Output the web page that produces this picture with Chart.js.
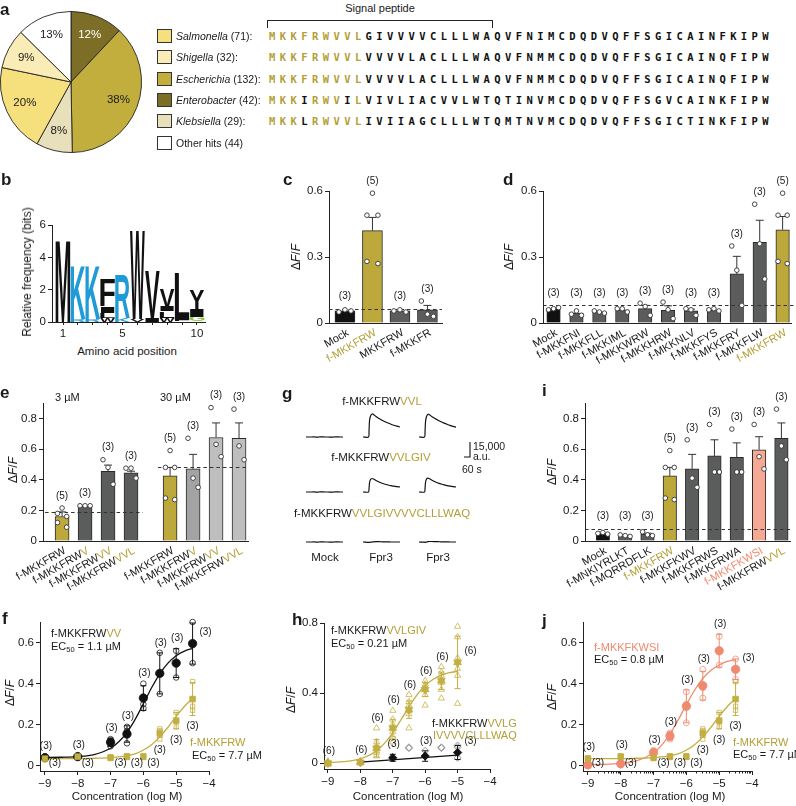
<!DOCTYPE html>
<html><head><meta charset="utf-8">
<script src="https://cdn.jsdelivr.net/npm/chart.js@4.4.1/dist/chart.umd.min.js"></script>
<style>
html,body{margin:0;padding:0;background:#fff}
body{position:relative;width:796px;height:806px;overflow:hidden;font-family:"Liberation Sans",Arial,Helvetica,sans-serif;color:#1a1a1a}
canvas{position:absolute}
.t{position:absolute;white-space:nowrap;line-height:1;font-size:11px}
.pl{font-weight:bold;font-size:17px}
.ol{color:#b39f36}
.sa{color:#ef8a6f}
.seq{position:absolute;font-family:"DejaVu Sans Mono",monospace;font-weight:bold;font-size:10.5px;letter-spacing:4.4px;white-space:nowrap;line-height:1;color:#111;transform:translateY(-50%)}
.sw{position:absolute;width:13px;height:12px;border:1px solid #333}
sub{font-size:7.5px;vertical-align:-2px;line-height:0}
</style></head><body>
<script>
// ===================== DATA =====================
// a: pie + legend
const genera = ['Salmonella','Shigella','Escherichia','Enterobacter','Klebsiella','Other hits'];
const generaCounts = [71,32,132,42,29,44];
const generaPct = [20,9,38,12,8,13];
const pieOrder = [3,2,4,0,1,5];            // clockwise from 12 o'clock
const seqRows = [
  'MKKFRWVVLGIVVVVCLLLWAQVFNIMCDQDVQFFSGICAINFKIPW',
  'MKKFRWVVLVVVVLACLLLWAQVFNMMCDQDVQFFSGICAINQFIPW',
  'MKKFRWVVLVVVVLACLLLWAQVFNMMCDQDVQFFSGICAINQFIPW',
  'MKKIRWVILVIVLIACVVLWTQTINVMCDQDVQFFSGVCAINKFIPW',
  'MKKLRWVVLIVIIAGCLLLWTQMTNVMCDQDVQFFSGICTINKFIPW'];
const seqConserved = ['111111111','111111111','111111111','111011101','111011111'];

// b: sequence logo (stacked, bottom -> top)
const logoPositions = [1,2,3,4,5,6,7,8,9,10];
const logoL1 = ['M','R','R','W','K','V','I','W','F','G'];
const logoB1 = [5.1,0.2,0.2,0.25,0.25,0.2,0.25,0.25,0.1,0.32];
const logoL2 = ['','K','K','L','R','W','V','L','L','I'];
const logoB2 = [0,3.25,3.25,0.3,2.65,5.5,2.95,0.4,2.9,0.5];
const logoL3 = ['','','','I','','','','I','','Y'];
const logoB3 = [0,0,0,0.4,0,0,0,0.3,0,1.2];
const logoL4 = ['','','','F','','','','V','',''];
const logoB4 = [0,0,0,1.65,0,0,0,1.1,0,0];
const logoYTicks = [0,2,4,6];

// c
const cCats = ['Mock','f-MKKFRW','MKKFRW','f-MKKFR'];
const cMeans = [0.055,0.42,0.055,0.06];
const cSem = [0.003,0.06,0.003,0.02];
const cPts = [[0.05,0.06,0.055],[0.59,0.49,0.49,0.28,0.27],[0.055,0.06,0.05],[0.1,0.04,0.03]];
const cN = [3,5,3,3];
const cBaseline = 0.065;
const cYTicks = [0,0.3,0.6];

// d
const dCats = ['Mock','f-MKKFNI','f-MKKFLL','f-MKKIML','f-MKKWRW','f-MKKHRW','f-MKKNLV','f-MKKFYS','f-MKKFRY','f-MKKFLW','f-MKKFRW'];
const dMeans = [0.065,0.045,0.05,0.06,0.065,0.058,0.055,0.06,0.223,0.367,0.424];
const dSem = [0.003,0.005,0.003,0.004,0.015,0.02,0.008,0.003,0.08,0.1,0.06];
const dPts = [[0.06,0.065,0.07],[0.04,0.055,0.035],[0.055,0.05,0.045],[0.065,0.065,0.05],[0.09,0.075,0.035],[0.095,0.06,0.02],[0.065,0.06,0.035],[0.06,0.065,0.055],[0.35,0.24,0.08],[0.54,0.36,0.2],[0.59,0.49,0.49,0.28,0.27]];
const dN = [3,3,3,3,3,3,3,3,3,3,5];
const dBaseline = 0.082;

// e
const eCats = ['f-MKKFRW','f-MKKFRW','f-MKKFRW','f-MKKFRW','f-MKKFRW','f-MKKFRW','f-MKKFRW','f-MKKFRW'];
const eSuffix = ['','V','VV','VVL','','V','VV','VVL'];
const eGroups = ['3 µM','30 µM'];
const eMeans = [0.16,0.23,0.455,0.445,0.425,0.47,0.675,0.67];
const eSem = [0.03,0.004,0.04,0.01,0.055,0.095,0.095,0.1];
const ePts = [[0.215,0.18,0.16,0.12,0.09],[0.23,0.23,0.23],[0.53,0.48,0.37],[0.475,0.475,0.41],[0.59,0.48,0.48,0.28,0.27],[0.67,0.41,0.35],[0.87,0.63,0.55],[0.86,0.62,0.53]];
const eN = [5,3,3,3,5,3,3,3];
const eBaselines = [0.19,0.48];
const eYTicks = [0,0.2,0.4,0.6,0.8];

// g: calcium traces (a.u.)
const traceTime = [0,55,60,65,75,90,105,130,160,190,220,250,280,310,340,370];
const traceMock = [0,0,0,0,100,0,-100,0,100,0,0,-100,0,100,0,0];
const traceVVL1 = [0,0,5000,16000,21000,23000,22500,20500,18500,16800,15300,14000,12800,11700,10800,10000];
const traceVVL2 = [0,0,4500,15000,20500,22800,22200,20300,18400,16700,15200,13900,12700,11600,10700,9900];
const traceGIV1 = [0,0,3000,9000,12500,13500,13000,11500,10000,8800,7800,7000,6300,5800,5300,5000];
const traceGIV2 = [0,0,3000,9500,13000,13800,13300,11800,10300,9000,8000,7100,6400,5800,5300,5000];
const traceLong1 = [0,-300,-500,-400,-200,0,200,300,300,200,100,100,0,0,0,0];
const traceLong2 = [0,-200,-400,-300,0,300,500,500,400,300,200,100,100,0,0,0];
const scaleBarX = [0,60,60];
const scaleBarY = [0,0,15000];

// i
const iCats = ['Mock','f-MNKIYRLKT','f-MQRRDFLK','f-MKKFRW','f-MKKFKWV','f-MKKFRWS','f-MKKFRWA','f-MKKFKWSI','f-MKKFRW'];
const iSuffix = ['','','','','','','','','VVL'];
const iMeans = [0.05,0.035,0.045,0.425,0.47,0.555,0.545,0.595,0.67];
const iSem = [0.003,0.003,0.006,0.055,0.095,0.105,0.095,0.085,0.1];
const iPts = [[0.05,0.055,0.045],[0.04,0.035,0.03],[0.06,0.04,0.035],[0.59,0.48,0.48,0.28,0.27],[0.66,0.41,0.35],[0.76,0.45,0.45],[0.73,0.45,0.45],[0.76,0.55,0.47],[0.86,0.62,0.53]];
const iN = [3,3,3,5,3,3,3,3,3];
const iBaseline = 0.08;

// f / h / j: concentration-response
const doseX = [-9,-8,-7,-6.5,-6,-5.5,-5,-4.5];
const doseXTicks = [-9,-8,-7,-6,-5,-4];
const curveX = [-9,-8.5,-8,-7.5,-7,-6.75,-6.5,-6.25,-6,-5.75,-5.5,-5.25,-5,-4.75,-4.5];
const fYTicks = [0,0.2,0.4,0.6];

const vvMean = [0.04,0.045,0.115,0.155,0.33,0.45,0.5,0.595];
const vvSem = [0.006,0.006,0.02,0.04,0.06,0.1,0.07,0.1];
const vvReps = [[0.035,0.04,0.045],[0.04,0.045,0.05],[0.095,0.12,0.13],[0.11,0.17,0.19],[0.28,0.3,0.4],[0.35,0.45,0.55],[0.43,0.5,0.56],[0.5,0.59,0.7]];
const vvCurve = [0.041,0.042,0.045,0.055,0.086,0.117,0.163,0.226,0.302,0.38,0.448,0.5,0.536,0.558,0.572];

const frwMean = [0.035,0.045,0.04,0.045,0.045,0.16,0.22,0.325];
const frwSem = [0.004,0.004,0.004,0.005,0.005,0.02,0.04,0.08];
const frwReps = [[0.03,0.035,0.04],[0.04,0.045,0.05],[0.035,0.04,0.045],[0.04,0.045,0.05],[0.04,0.045,0.05],[0.13,0.15,0.18],[0.19,0.22,0.26],[0.27,0.29,0.41]];
const frwCurve = [0.035,0.035,0.035,0.037,0.04,0.044,0.049,0.058,0.077,0.103,0.141,0.188,0.241,0.289,0.328];

const hX = [-9,-8,-7.5,-7,-6.5,-6,-5.5,-5];
const hCurveX = [-9,-8.5,-8,-7.75,-7.5,-7.25,-7,-6.75,-6.5,-6.25,-6,-5.75,-5.5,-5.25,-5];
const hYTicks = [0,0.4,0.8];
const givMean = [0.0,0.005,0.085,0.2,0.305,0.42,0.47,0.575];
const givSem = [0.01,0.01,0.05,0.05,0.05,0.04,0.05,0.15];
const givReps = [[-0.01,0,0,0.005,0.01,0.005],[0,0,0.005,0.01,0.01,0.005],[0.04,0.06,0.07,0.1,0.12,0.2],[0.12,0.15,0.18,0.22,0.25,0.3],[0.2,0.28,0.3,0.33,0.35,0.39],[0.33,0.39,0.42,0.44,0.45,0.47],[0.37,0.42,0.46,0.5,0.52,0.55],[0.34,0.5,0.54,0.6,0.72,0.78]];
const givCurve = [0.003,0.008,0.024,0.042,0.07,0.114,0.173,0.246,0.322,0.39,0.443,0.479,0.502,0.516,0.524];
const longX = [-7,-6,-5];
const longMean = [0.03,0.04,0.06];
const longSem = [0.02,0.03,0.04];
const longRepX = [-8,-6.5,-6.5,-6,-5.5,-5.5,-5,-5,-5];
const longRepY = [0.0,0.09,0.085,0.07,0.09,0.085,0.1,0.09,0.03];
const longLineX = [-8,-5];
const longLineY = [0.005,0.045];

const wsiMean = [0.005,0.01,0.065,0.145,0.29,0.39,0.56,0.47];
const wsiSem = [0.003,0.004,0.01,0.02,0.08,0.07,0.08,0.05];
const wsiReps = [[0,0.005,0.01],[0.005,0.01,0.015],[0.055,0.065,0.075],[0.13,0.15,0.16],[0.21,0.3,0.36],[0.33,0.38,0.47],[0.49,0.56,0.63],[0.42,0.47,0.52]];
const wsiCurve = [0.006,0.007,0.012,0.025,0.064,0.101,0.155,0.223,0.298,0.368,0.425,0.465,0.491,0.508,0.517];

// ===================== STYLE =====================
const FONT = '"Liberation Sans", Arial, Helvetica, sans-serif';
const K = '#1a1a1a', OL = '#bca83b', OLT = '#b39f36', OLM = '#c2ae42', OLR = '#cdbb5c';
const DG = '#5b5c5c', MG = '#a3a3a3', LG = '#bebebe', SAB = '#f5a894', SAM = '#ef8a6f', SAR = '#f2a08a';
const BLUE = '#1f9bd7', GREEN = '#8cc63f';
Chart.defaults.font.family = FONT;
Chart.defaults.color = K;

function txt(x, y, html, o) {
  o = o || {};
  const d = document.createElement('div');
  d.className = 't ' + (o.cls || '');
  d.innerHTML = html;
  d.style.left = x + 'px'; d.style.top = y + 'px';
  if (o.size) d.style.fontSize = o.size + 'px';
  const tx = o.align === 'c' ? '-50%' : o.align === 'r' ? '-100%' : '0';
  d.style.transform = 'translate(' + tx + ',-50%)';
  if (o.rot) d.style.transform = 'translate(-50%,-50%) rotate(-90deg)';
  document.body.appendChild(d);
  return d;
}
const DFF = '&Delta;<i>F</i>/<i>F</i>';

function mk(box, cfg) {
  const W = box.w + box.pl + box.pr, H = box.h + box.pt + box.pb;
  const c = document.createElement('canvas');
  c.width = W; c.height = H;
  Object.assign(c.style, {left: (box.l - box.pl) + 'px', top: (box.t - box.pt) + 'px', width: W + 'px', height: H + 'px'});
  document.body.appendChild(c);
  const o = cfg.options = cfg.options || {};
  Object.assign(o, {responsive: false, maintainAspectRatio: false, devicePixelRatio: 1, animation: false, events: []});
  o.plugins = Object.assign({legend: {display: false}, tooltip: {enabled: false}}, o.plugins || {});
  if (o.scales && o.scales.x && o.scales.x.display !== false) {
    o.layout = {padding: {left: 0, top: box.pt, right: box.pr, bottom: 0}};
    o.scales.x.afterFit = s => { s.height = box.pb; };
    o.scales.y.afterFit = s => { s.width = box.pl; };
  } else {
    o.layout = {padding: {left: box.pl, top: box.pt, right: box.pr, bottom: box.pb}};
  }
  return new Chart(c, cfg);
}
function fmtNum(v) {
  if (v === 0) return '0';
  if (Number.isInteger(v)) return String(v).replace('-', '\u2212');
  return v.toFixed(1);
}
function linAxis(min, max, ticks, opt) {
  opt = opt || {};
  return {
    type: 'linear', min: min, max: max, offset: false, stacked: !!opt.stacked,
    afterBuildTicks: s => { s.ticks = ticks.map(v => ({value: v})); },
    grid: {display: !opt.noTicks, drawOnChartArea: false, drawTicks: true, tickLength: opt.tl || 4, color: '#222', lineWidth: 1, offset: false},
    border: {display: true, color: '#222', width: 1},
    ticks: {display: !!opt.labels, autoSkip: false, maxRotation: 0, minRotation: 0, padding: 2, color: K,
      font: {size: 11.5, family: FONT}, callback: opt.fmt || (v => fmtNum(v))}
  };
}

// ===================== PANEL a =====================
const pieColors = ['#f6df7d','#f9ecb6','#c2ae3c','#7c6d27','#e8dfbb','#ffffff'];
mk({l: 0, t: 11, w: 142, h: 142, pl: 0, pt: 0, pr: 0, pb: 0}, {
  type: 'pie',
  data: {labels: pieOrder.map(i => genera[i]), datasets: [{data: pieOrder.map(i => generaCounts[i]),
    backgroundColor: pieOrder.map(i => pieColors[i]), borderColor: '#222', borderWidth: 0.9}]},
  options: {},
  plugins: [{id: 'pielab', afterDatasetsDraw(chart) {
    const ctx = chart.ctx, meta = chart.getDatasetMeta(0);
    ctx.save(); ctx.font = '11.5px ' + FONT; ctx.textAlign = 'center'; ctx.textBaseline = 'middle';
    meta.data.forEach((arc, i) => {
      const a = (arc.startAngle + arc.endAngle) / 2, r = arc.outerRadius * 0.72;
      ctx.fillStyle = pieOrder[i] === 3 ? '#fff' : K;
      ctx.fillText(generaPct[pieOrder[i]] + '%', arc.x + Math.cos(a) * r, arc.y + Math.sin(a) * r);
    });
    ctx.restore();
  }}]
});
txt(0, 9, 'a', {cls: 'pl'});
genera.forEach((g, k) => {
  const cy = 36 + 21.3 * k;
  const sw = document.createElement('div'); sw.className = 'sw';
  Object.assign(sw.style, {left: '157px', top: (cy - 7) + 'px', background: pieColors[k]});
  document.body.appendChild(sw);
  const name = k < 5 ? '<i>' + g + '</i>' : g;
  txt(176, cy, name + ' (' + generaCounts[k] + ')' + (k < 5 ? ':' : ''), {size: 10.5});
});
seqRows.forEach((s, k) => {
  const d = document.createElement('div'); d.className = 'seq';
  d.style.left = '269px'; d.style.top = (36 + 21.3 * k) + 'px';
  d.innerHTML = s.split('').map((ch, i) => (i < 9 && seqConserved[k][i] === '1') ? '<span class="ol">' + ch + '</span>' : ch).join('');
  document.body.appendChild(d);
});
txt(380, 8, 'Signal peptide', {align: 'c', size: 11});
const br = document.createElement('div');
Object.assign(br.style, {position: 'absolute', left: '267px', top: '20px', width: '224px', height: '7px', borderTop: '1px solid #222', borderLeft: '1px solid #222', borderRight: '1px solid #222'});
document.body.appendChild(br);

// ===================== PANEL b (logo) =====================
const logoLevels = [[logoL1, logoB1], [logoL2, logoB2], [logoL3, logoB3], [logoL4, logoB4]];
const logoColor = ch => (ch === 'K' || ch === 'R') ? BLUE : ch === 'G' ? GREEN : '#111';
mk({l: 52, t: 225, w: 153, h: 97, pl: 40, pt: 10, pr: 8, pb: 22}, {
  type: 'bar',
  data: {datasets: logoLevels.map(([L, B]) => ({
    data: B.map((b, i) => ({x: i, y: b})), backgroundColor: 'rgba(0,0,0,0)', borderWidth: 0, barThickness: 14.8, letters: L}))},
  options: {scales: {
    x: linAxis(-0.74, 9.54, logoPositions.map((p, i) => i), {labels: true, tl: 3, stacked: true, fmt: v => ([1,5,10].includes(logoPositions[v]) ? String(logoPositions[v]) : '')}),
    y: linAxis(0, 6, logoYTicks, {labels: true, stacked: true, fmt: v => String(v)})}},
  plugins: [{id: 'logo', afterDatasetsDraw(chart) {
    const ctx = chart.ctx;
    chart.data.datasets.forEach((ds, di) => {
      const meta = chart.getDatasetMeta(di);
      meta.data.forEach((el, i) => {
        const ch = ds.letters[i]; if (!ch) return;
        const top = Math.min(el.y, el.base), bot = Math.max(el.y, el.base), h = bot - top; if (h < 0.5) return;
        const w = el.width, left = el.x - w / 2;
        ctx.save(); ctx.font = 'bold 100px ' + FONT; ctx.textAlign = 'left'; ctx.textBaseline = 'alphabetic';
        const m = ctx.measureText(ch);
        const gw = m.actualBoundingBoxLeft + m.actualBoundingBoxRight, gh = m.actualBoundingBoxAscent + m.actualBoundingBoxDescent;
        ctx.translate(left, top); ctx.scale(w / gw, h / gh);
        ctx.fillStyle = logoColor(ch);
        ctx.fillText(ch, m.actualBoundingBoxLeft, m.actualBoundingBoxAscent);
        ctx.restore();
      });
    });
  }}]
});
txt(1, 179, 'b', {cls: 'pl'});
txt(27, 272, 'Relative frequency (bits)', {rot: true, size: 12});
txt(127, 352, 'Amino acid position', {align: 'c', size: 11.5});

// ===================== BAR PANELS =====================
function barPanel(box, P) {
  const pos = P.pos;
  const jit = {3: [-0.22, 0, 0.22], 5: [0, -0.2, 0.2, -0.2, 0.2]};
  const pts = [];
  P.pts.forEach((arr, i) => arr.forEach((v, k) => pts.push({x: pos[i] + jit[arr.length][k], y: v})));
  const plug = {id: 'bp', beforeDatasetDraw(chart, args) {
      if (args.index !== 0) return;
      const ctx = chart.ctx, xs = chart.scales.x, ys = chart.scales.y;
      ctx.save(); ctx.strokeStyle = '#333'; ctx.lineWidth = 1; ctx.setLineDash([3.5, 3]);
      P.base.forEach(b => { const y = Math.round(ys.getPixelForValue(b.y)) + 0.5; ctx.beginPath(); ctx.moveTo(xs.getPixelForValue(b.from), y); ctx.lineTo(xs.getPixelForValue(b.to), y); ctx.stroke(); });
      ctx.setLineDash([]); ctx.strokeStyle = '#333';
      P.means.forEach((m, i) => {
        if (P.sems[i] < 0.006) return;
        const x = xs.getPixelForValue(pos[i]), y0 = ys.getPixelForValue(m), y1 = ys.getPixelForValue(m + P.sems[i]);
        ctx.beginPath(); ctx.moveTo(x, y0); ctx.lineTo(x, y1); ctx.moveTo(x - P.cap, y1); ctx.lineTo(x + P.cap, y1); ctx.stroke();
      });
      ctx.restore();
    },
    afterDraw(chart) {
      const ctx = chart.ctx, xs = chart.scales.x, ys = chart.scales.y, y0 = ys.getPixelForValue(0);
      ctx.save();
      ctx.font = '10px ' + FONT; ctx.fillStyle = K; ctx.textAlign = 'center'; ctx.textBaseline = 'middle';
      P.means.forEach((m, i) => {
        let top = Math.max(m + P.sems[i], ...P.pts[i]);
        P.base.forEach(b => { if (pos[i] >= b.from && pos[i] <= b.to) top = Math.max(top, b.y); });
        ctx.fillText('(' + P.n[i] + ')', xs.getPixelForValue(pos[i]), ys.getPixelForValue(top) - 12);
      });
      ctx.font = '11px ' + FONT; ctx.textAlign = 'left';
      P.cats.forEach((c, i) => {
        const suf = (P.suffix && P.suffix[i]) || '';
        const w1 = ctx.measureText(c).width, w2 = ctx.measureText(suf).width;
        ctx.save(); ctx.translate(xs.getPixelForValue(pos[i]) + 3, y0 + 9); ctx.rotate(-P.rot * Math.PI / 180);
        ctx.fillStyle = P.lc[i]; ctx.fillText(c, -(w1 + w2), 0);
        if (suf) { ctx.fillStyle = OLT; ctx.fillText(suf, -w2, 0); }
        ctx.restore();
      });
      ctx.restore();
    }};
  return mk(box, {
    type: 'bar',
    data: {datasets: [
      {type: 'scatter', data: pts, pointRadius: 2.3, pointBackgroundColor: '#fff', pointBorderColor: '#333', pointBorderWidth: 0.9, clip: false},
      {type: 'bar', data: P.means.map((m, i) => ({x: pos[i], y: m})), backgroundColor: P.colors, borderColor: '#2a2a2a', borderWidth: 1, barThickness: P.bw}
    ]},
    options: {scales: {x: linAxis(P.xmin, P.xmax, [P.xmin], {noTicks: true}), y: linAxis(0, P.ymax, P.yticks, {labels: true})}},
    plugins: [plug]
  });
}

// c
barPanel({l: 329, t: 191, w: 113, h: 132, pl: 45, pt: 25, pr: 8, pb: 75}, {
  cats: cCats, means: cMeans, sems: cSem, pts: cPts, n: cN, pos: cCats.map((_, i) => i),
  xmin: -0.58, xmax: 3.53, ymax: 0.6, yticks: cYTicks, bw: 20, cap: 4, rot: 30,
  colors: ['#111', OL, DG, DG], lc: [K, OLT, K, K], base: [{y: cBaseline, from: -0.58, to: 3.53}]});
txt(283, 179, 'c', {cls: 'pl'});
txt(296, 257, DFF, {rot: true, size: 12});

// d
barPanel({l: 543, t: 191, w: 249, h: 132, pl: 45, pt: 25, pr: 4, pb: 75}, {
  cats: dCats, means: dMeans, sems: dSem, pts: dPts, n: dN, pos: dCats.map((_, i) => i),
  xmin: -0.46, xmax: 10.37, ymax: 0.6, yticks: cYTicks, bw: 13.5, cap: 4, rot: 30,
  colors: ['#111', DG, DG, DG, DG, DG, DG, DG, DG, DG, OL], lc: [K, K, K, K, K, K, K, K, K, K, OLT],
  base: [{y: dBaseline, from: -0.46, to: 10.55}]});
txt(503, 179, 'd', {cls: 'pl'});
txt(509, 257, DFF, {rot: true, size: 12});

// e
const ePos = eMeans.map((_, i) => i < 4 ? i : i + 0.7);
barPanel({l: 43, t: 403, w: 205, h: 138, pl: 40, pt: 25, pr: 8, pb: 75}, {
  cats: eCats, suffix: eSuffix, means: eMeans, sems: eSem, pts: ePts, n: eN, pos: ePos,
  xmin: -0.83, xmax: 8.09, ymax: 0.9, yticks: eYTicks, bw: 14, cap: 4, rot: 30,
  colors: [OL, DG, DG, DG, OL, MG, LG, LG], lc: [K, K, K, K, K, K, K, K],
  base: [{y: eBaselines[0], from: -0.74, to: 3.52}, {y: eBaselines[1], from: 4.17, to: 8.09}]});
txt(0, 392, 'e', {cls: 'pl'});
txt(13, 470, DFF, {rot: true, size: 12});
txt(55, 397, eGroups[0], {size: 11});
txt(160, 397, eGroups[1], {size: 11});

// i
barPanel({l: 585, t: 403, w: 206, h: 138, pl: 40, pt: 25, pr: 4, pb: 75}, {
  cats: iCats, suffix: iSuffix, means: iMeans, sems: iSem, pts: iPts, n: iN, pos: iCats.map((_, i) => i),
  xmin: -0.8, xmax: 8.39, ymax: 0.9, yticks: eYTicks, bw: 13.5, cap: 4, rot: 30,
  colors: ['#111', DG, DG, OL, DG, DG, DG, SAB, DG], lc: [K, K, K, OLT, K, K, K, SAM, K],
  base: [{y: iBaseline, from: -0.8, to: 8.39}]});
txt(542, 390, 'i', {cls: 'pl'});
txt(552, 472, DFF, {rot: true, size: 12});

// ===================== PANEL g (traces) =====================
const traceRowsData = [[traceMock, traceVVL1, traceVVL2], [traceMock, traceGIV1, traceGIV2], [traceMock, traceLong1, traceLong2]];
const rowBase = [437, 492, 542], colLeft = [306, 363, 419];
function plainScales(xmin, xmax, ymin, ymax) {
  return {x: {type: 'linear', display: false, min: xmin, max: xmax}, y: {type: 'linear', display: false, min: ymin, max: ymax}};
}
traceRowsData.forEach((row, r) => row.forEach((tr, c) => {
  mk({l: colLeft[c], t: rowBase[r] - 25, w: 37, h: 27, pl: 2, pt: 2, pr: 2, pb: 2}, {
    type: 'scatter',
    data: {datasets: [{data: traceTime.map((t, i) => ({x: t, y: tr[i]})), showLine: true, pointRadius: 0, borderColor: '#111', borderWidth: 1.2, tension: 0.3, clip: false}]},
    options: {scales: plainScales(0, 370, -2000, 25000)}
  });
}));
mk({l: 464, t: 442, w: 6, h: 15, pl: 2, pt: 2, pr: 2, pb: 2}, {
  type: 'scatter',
  data: {datasets: [{data: scaleBarX.map((t, i) => ({x: t, y: scaleBarY[i]})), showLine: true, pointRadius: 0, borderColor: '#111', borderWidth: 1.1, clip: false}]},
  options: {scales: plainScales(0, 60, 0, 15000)}
});
txt(282, 393, 'g', {cls: 'pl'});
txt(382, 402, 'f-MKKFRW<span class="ol">VVL</span>', {align: 'c', size: 11.5});
txt(381, 458, 'f-MKKFRW<span class="ol">VVLGIV</span>', {align: 'c', size: 11.5});
txt(382, 514, 'f-MKKFRW<span class="ol">VVLGIVVVVCLLLWAQ</span>', {align: 'c', size: 11.5});
txt(325, 558, 'Mock', {align: 'c', size: 11.5});
txt(381, 558, 'Fpr3', {align: 'c', size: 11.5});
txt(438, 558, 'Fpr3', {align: 'c', size: 11.5});
txt(473, 446, '15,000', {size: 10.5});
txt(473, 456, 'a.u.', {size: 10.5});
txt(462, 469, '60 s', {size: 10.5});

// ===================== DOSE PANELS =====================
function dosePanel(box, P) {
  const ds = [];
  P.series.forEach(S => {
    S.marks.forEach((mk_, k) => ds.push({type: 'scatter', data: S.x.map((x, i) => ({x: x, y: S.mean[i]})),
      pointStyle: mk_.style, pointRotation: mk_.rot || 0, pointRadius: mk_.r, pointBackgroundColor: S.color, pointBorderColor: S.color,
      pointBorderWidth: 0.8, order: 1, clip: false, errSrc: k === 0 ? S : null}));
  });
  P.series.forEach(S => { if (S.cx) ds.push({type: 'scatter', showLine: true, data: S.cx.map((x, i) => ({x: x, y: S.cy[i]})),
    borderColor: S.lineColor || S.color, borderWidth: 1.3, pointRadius: 0, cubicInterpolationMode: 'monotone', order: 2, clip: false}); });
  P.series.forEach(S => {
    const d = [];
    if (S.reps) S.reps.forEach((arr, i) => arr.forEach(v => d.push({x: S.x[i], y: v})));
    if (S.repX) S.repX.forEach((x, i) => d.push({x: x, y: S.repY[i]}));
    if (d.length) ds.push({type: 'scatter', data: d, pointStyle: S.repStyle, pointRadius: S.repR, pointBackgroundColor: 'rgba(255,255,255,0)',
      pointBorderColor: S.repColor, pointBorderWidth: 0.9, order: 3, clip: false});
  });
  const plug = {id: 'dp',
    beforeDatasetDraw(chart, args) {
      const S = chart.data.datasets[args.index].errSrc; if (!S) return;
      const ctx = chart.ctx, xs = chart.scales.x, ys = chart.scales.y;
      ctx.save(); ctx.strokeStyle = S.color; ctx.lineWidth = 1;
      S.x.forEach((x, i) => {
        const px = xs.getPixelForValue(x), a = ys.getPixelForValue(S.mean[i] + S.sem[i]), b = ys.getPixelForValue(S.mean[i] - S.sem[i]);
        if (Math.abs(a - b) < 3) return;
        ctx.beginPath(); ctx.moveTo(px, a); ctx.lineTo(px, b);
        ctx.moveTo(px - 3, a); ctx.lineTo(px + 3, a); ctx.moveTo(px - 3, b); ctx.lineTo(px + 3, b); ctx.stroke();
      });
      ctx.restore();
    },
    afterDraw(chart) {
      const ctx = chart.ctx, xs = chart.scales.x, ys = chart.scales.y;
      ctx.save();
      if (P.minor) {
        ctx.strokeStyle = '#222'; ctx.lineWidth = 1; ctx.beginPath();
        const yb = chart.chartArea.bottom;
        P.minor.forEach(v => { const px = Math.round(xs.getPixelForValue(v)) + 0.5; ctx.moveTo(px, yb); ctx.lineTo(px, yb + 2.5); });
        ctx.stroke();
      }
      ctx.font = '10px ' + FONT; ctx.fillStyle = K; ctx.textAlign = 'center'; ctx.textBaseline = 'middle';
      P.series.forEach(S => { if (!S.lab) return; S.x.forEach((x, i) => {
        const m = S.lab[i]; if (!m) return;
        const px = xs.getPixelForValue(x);
        const reps = S.reps ? S.reps[i] : [];
        const hi = Math.max(S.mean[i] + S.sem[i], ...reps), lo = Math.min(S.mean[i] - S.sem[i], ...reps);
        let lx, ly;
        if (m === 'a') { lx = px + 1; ly = ys.getPixelForValue(hi) - 10; }
        else if (m === 'R') { lx = px + 13; ly = ys.getPixelForValue(S.mean[i]) - 11; }
        else if (m === 'r') { lx = px + 10; ly = ys.getPixelForValue(0) - 3; }
        else { lx = px; ly = ys.getPixelForValue(lo) + 11; }
        ctx.fillText('(' + S.n + ')', lx, ly);
      }); });
      ctx.restore();
    }};
  return mk(box, {
    type: 'scatter', data: {datasets: ds},
    options: {scales: {x: linAxis(P.xmin, P.xmax, doseXTicks, {labels: true}), y: linAxis(P.ymin, P.ymax, P.yticks, {labels: true})}},
    plugins: [plug]
  });
}

const frwSeries = {x: doseX, mean: frwMean, sem: frwSem, reps: frwReps, cx: curveX, cy: frwCurve, color: OLM, repColor: OLR,
  marks: [{style: 'rect', r: 4}], repStyle: 'rect', repR: 3, n: 3};

// f
dosePanel({l: 40, t: 622, w: 169, h: 149, pl: 40, pt: 12, pr: 10, pb: 22}, {
  xmin: -9.15, xmax: -4, ymin: -0.025, ymax: 0.7, yticks: fYTicks,
  series: [
    Object.assign({}, frwSeries, {lab: ['r','r','r','r','r','b','b','b']}),
    {x: doseX, mean: vvMean, sem: vvSem, reps: vvReps, cx: curveX, cy: vvCurve, color: '#111', repColor: '#333',
     marks: [{style: 'circle', r: 4.2}], repStyle: 'circle', repR: 2.8, n: 3, lab: ['a','a','a','a','a','a','a','R']}
  ]});
txt(2, 618, 'f', {cls: 'pl'});
txt(10, 693, DFF, {rot: true, size: 12});
txt(127, 797, 'Concentration (log M)', {align: 'c', size: 11.5});
txt(51, 633, 'f-MKKFRW<span class="ol">VV</span>', {size: 11});
txt(51, 646, 'EC<sub>50</sub> = 1.1 µM', {size: 11});
txt(190, 742, '<span class="ol">f-MKKFRW</span>', {size: 11});
txt(192, 755, 'EC<sub>50</sub> = 7.7 µM', {size: 11});

// h
dosePanel({l: 324, t: 623, w: 166, h: 146, pl: 40, pt: 12, pr: 10, pb: 22}, {
  xmin: -9.12, xmax: -4, ymin: -0.034, ymax: 0.8, yticks: hYTicks,
  series: [
    {x: longX, mean: longMean, sem: longSem, repX: longRepX, repY: longRepY, cx: longLineX, cy: longLineY, color: '#111', repColor: '#8a8a8a',
     marks: [{style: 'rectRot', r: 4.2}], repStyle: 'rectRot', repR: 3.5, n: 3, lab: ['a','a','R']},
    {x: hX, mean: givMean, sem: givSem, reps: givReps, cx: hCurveX, cy: givCurve, color: OLM, repColor: OLR,
     marks: [{style: 'triangle', r: 4.5}, {style: 'triangle', r: 4.5, rot: 180}], repStyle: 'triangle', repR: 3.6, n: 6,
     lab: ['a','a','a','a','a','a','a','R']}
  ]});
txt(292, 619, 'h', {cls: 'pl'});
txt(291, 700, DFF, {rot: true, size: 12});
txt(408, 797, 'Concentration (log M)', {align: 'c', size: 11.5});
txt(331, 630, 'f-MKKFRW<span class="ol">VVLGIV</span>', {size: 11});
txt(331, 643, 'EC<sub>50</sub> = 0.21 µM', {size: 11});
txt(432, 723, 'f-MKKFRW<span class="ol">VVLG</span>', {size: 11});
txt(433, 735, '<span class="ol">IVVVVCLLLWAQ</span>', {size: 11});

// j
const jMinor = [];
[-9,-8,-7,-6,-5].forEach(d => [2,3,4,5,6,7,8,9].forEach(k => jMinor.push(d + Math.log10(k))));
dosePanel({l: 583, t: 622, w: 169, h: 149, pl: 40, pt: 12, pr: 10, pb: 22}, {
  xmin: -9.15, xmax: -4, ymin: -0.025, ymax: 0.7, yticks: fYTicks, minor: jMinor,
  series: [
    Object.assign({}, frwSeries, {lab: ['a','a','r','r','r','b','b','b']}),
    {x: doseX, mean: wsiMean, sem: wsiSem, reps: wsiReps, cx: curveX, cy: wsiCurve, color: SAM, repColor: SAR,
     marks: [{style: 'circle', r: 4.2}], repStyle: 'circle', repR: 3, n: 3, lab: ['r','r','a','a','a','a','a','R']}
  ]});
txt(542, 620, 'j', {cls: 'pl'});
txt(552, 697, DFF, {rot: true, size: 12});
txt(670, 797, 'Concentration (log M)', {align: 'c', size: 11.5});
txt(594, 647, '<span class="sa">f-MKKFKWSI</span>', {size: 11});
txt(594, 659, 'EC<sub>50</sub> = 0.8 µM', {size: 11});
txt(733, 742, '<span class="ol">f-MKKFRW</span>', {size: 11});
txt(733, 754, 'EC<sub>50</sub> = 7.7 µM', {size: 11});
</script>
</body></html>
